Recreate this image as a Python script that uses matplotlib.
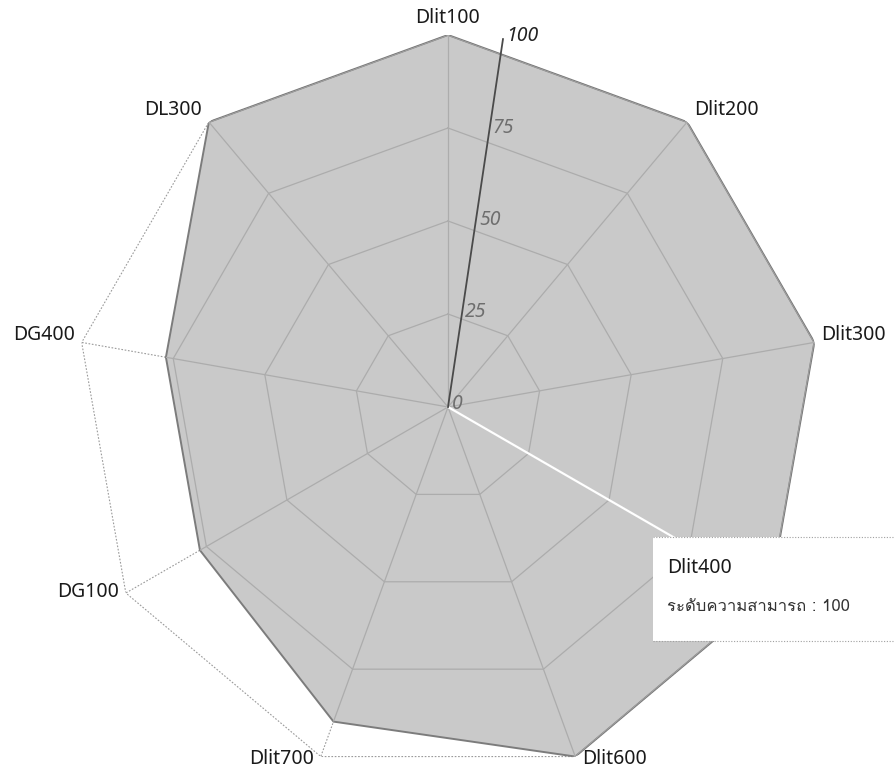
import numpy as np
import matplotlib
matplotlib.use("Agg")
import matplotlib.pyplot as plt
from matplotlib import font_manager, ft2font
from matplotlib.patches import Rectangle
from matplotlib.lines import Line2D

# ---- data ----
categories = ['Dlit100', 'Dlit200', 'Dlit300', 'Dlit400', 'Dlit600',
              'Dlit700', 'DG100', 'DG400', 'DL300']
values = [100, 100, 100, 100, 100, 90, 77, 77, 100]
ring_levels = [25, 50, 75, 100]
tick_values = [0, 25, 50, 75, 100]
tooltip_category = 'Dlit400'
tooltip_label = 'ระดับความสามารถ'

# ---- find a font with Thai glyphs ----
thai_font = None
for fe in font_manager.fontManager.ttflist:
    try:
        f = ft2font.FT2Font(fe.fname)
        cm = f.get_charmap()
        if 0x0E23 in cm and 0x0E14 in cm:
            thai_font = fe.name
            break
    except Exception:
        pass

label_family = ['Noto Sans', 'DejaVu Sans']
thai_family = ([thai_font] if thai_font else []) + ['Noto Sans', 'DejaVu Sans']

W, H = 895, 776
fig = plt.figure(figsize=(W / 100, H / 100), dpi=100)
cx, cy, R = 448, 407, 372
ax = fig.add_axes([(cx - R) / W, (H - cy - R) / H, 2 * R / W, 2 * R / H], projection='polar')
ax.set_theta_zero_location('N')
ax.set_theta_direction(-1)
ax.set_ylim(0, 100)
ax.grid(False)
ax.set_xticks([])
ax.set_yticks([])
ax.spines['polar'].set_visible(False)
ax.patch.set_visible(False)

n = len(categories)
theta = np.deg2rad(np.arange(n) * 360.0 / n)
theta_c = np.append(theta, theta[0])
vals_c = np.append(values, values[0])

# dotted grid (visible outside the fill)
grid_col = '#9a9a9a'
for lv in ring_levels:
    ax.plot(theta_c, [lv] * (n + 1), color=grid_col, lw=0.8, ls=(0, (1.5, 1.5)), zorder=1)
for t in theta:
    ax.plot([t, t], [0, 100], color=grid_col, lw=0.8, ls=(0, (1.5, 1.5)), zorder=1)

# fill
poly = ax.fill(theta_c, vals_c, facecolor='#c9c9c9', edgecolor='#7c7c7c', lw=1.4, zorder=2)[0]

# solid grid inside the fill
inner_col = '#acacac'
for lv in ring_levels:
    ln, = ax.plot(theta_c, [lv] * (n + 1), color=inner_col, lw=0.9, zorder=3)
    ln.set_clip_path(poly)
for t in theta:
    ln, = ax.plot([t, t], [0, 100], color=inner_col, lw=0.9, zorder=3)
    ln.set_clip_path(poly)

# cursor line toward hovered category
ti = theta[categories.index(tooltip_category)]
ax.plot([ti, ti], [0, 100], color='white', lw=1.6, zorder=4)

# radial value axis (tilted)
axis_theta = np.deg2rad(8.5)
ax.plot([axis_theta, axis_theta], [0, 100], color='#4a4a4a', lw=1.3, zorder=5, clip_on=False)
for v in tick_values:
    col = '#222222' if v == 100 else '#6e6e6e'
    ax.annotate(str(v), xy=(axis_theta, v), xytext=(2.5, 2.5), textcoords='offset points',
                ha='left', va='center', fontsize=14, fontstyle='italic', color=col,
                family=label_family, zorder=6, annotation_clip=False)

# category labels (the hovered one is hidden under the tooltip)
for t, c in zip(theta, categories):
    if c == tooltip_category:
        continue
    s, co = np.sin(t), np.cos(t)
    if s > 0.1:
        ha, dx = 'left', 5
    elif s < -0.1:
        ha, dx = 'right', -5
    else:
        ha, dx = 'center', 0
    dy = 6 * co + 4 + (2 if abs(s) < 0.1 else 0)
    ax.annotate(c, xy=(t, 100), xytext=(dx, dy), textcoords='offset points',
                ha=ha, va='center', fontsize=14, color='#1a1a1a', family=label_family,
                annotation_clip=False)

# tooltip
x0, y_top, y_bot = 653, 537, 641
fig.patches.append(Rectangle((x0 / W, 1 - y_bot / H), (W - x0 + 5) / W, (y_bot - y_top) / H,
                             transform=fig.transFigure, facecolor='white', edgecolor='none',
                             zorder=10))
for yy in (y_top, y_bot):
    fig.lines.append(Line2D([x0 / W, 1.0], [1 - yy / H, 1 - yy / H], transform=fig.transFigure,
                            color='#a0a0a0', lw=0.8, ls=(0, (1, 1.5)), zorder=11))
fig.text(667 / W, 1 - 568 / H, tooltip_category, ha='left', va='center', fontsize=14,
         color='#1a1a1a', family=label_family, zorder=12)
fig.text(667 / W, 1 - 607 / H, f'{tooltip_label} : {values[categories.index(tooltip_category)]}',
         ha='left', va='center', fontsize=12, color='#333333', family=thai_family, zorder=12)

fig.savefig('out.png', dpi=100, facecolor='white')
